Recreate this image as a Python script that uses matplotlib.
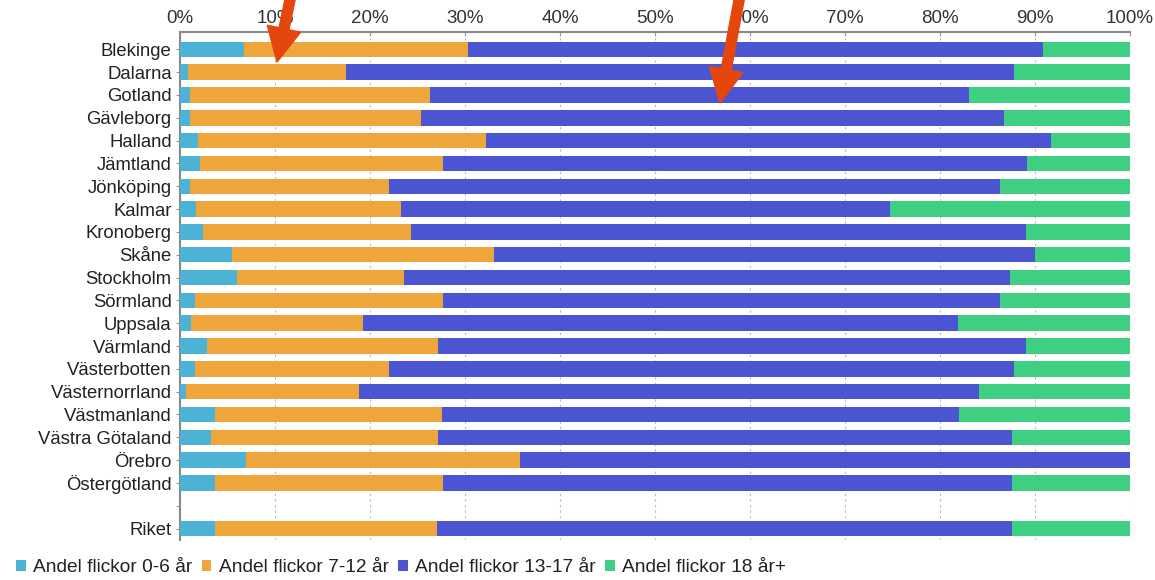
import matplotlib
matplotlib.use("Agg")
import matplotlib.pyplot as plt
from matplotlib.patches import FancyArrow
from matplotlib.transforms import IdentityTransform
import numpy as np

plt.rcParams['font.family'] = ['Liberation Sans', 'DejaVu Sans']

regions = ["Blekinge", "Dalarna", "Gotland", "Gävleborg", "Halland", "Jämtland",
           "Jönköping", "Kalmar", "Kronoberg", "Skåne", "Stockholm", "Sörmland",
           "Uppsala", "Värmland", "Västerbotten", "Västernorrland", "Västmanland",
           "Västra Götaland", "Örebro", "Östergötland", "", "Riket"]

# cumulative boundaries (percent)
cum_0_6 = [6.7, 0.8, 1.0, 1.0, 1.9, 2.1, 1.0, 1.7, 2.4, 5.5, 6.0, 1.6, 1.2, 2.8, 1.6, 0.6, 3.7, 3.3, 6.9, 3.7, 0, 3.7]
cum_7_12 = [30.3, 17.5, 26.3, 25.4, 32.2, 27.7, 22.0, 23.3, 24.3, 33.0, 23.6, 27.7, 19.3, 27.2, 22.0, 18.8, 27.6, 27.2, 35.8, 27.7, 0, 27.0]
cum_13_17 = [90.8, 87.8, 83.1, 86.7, 91.7, 89.2, 86.3, 74.7, 89.1, 90.0, 87.4, 86.3, 81.9, 89.1, 87.8, 84.1, 82.0, 87.6, 100.0, 87.6, 0, 87.6]
cum_total = [100.0] * 20 + [0] + [100.0]

series_labels = ["Andel flickor 0-6 år", "Andel flickor 7-12 år",
                 "Andel flickor 13-17 år", "Andel flickor 18 år+"]
colors = ["#4DB3D6", "#EEA63A", "#4B55D2", "#3ECF82"]
xticks = [0, 10, 20, 30, 40, 50, 60, 70, 80, 90, 100]

c0 = np.array(cum_0_6)
c1 = np.array(cum_7_12)
c2 = np.array(cum_13_17)
c3 = np.array(cum_total)
lefts = [np.zeros_like(c0), c0, c1, c2]
widths = [c0, c1 - c0, c2 - c1, c3 - c2]

fig = plt.figure(figsize=(11.55, 5.8), dpi=100)
ax = fig.add_axes([180/1155, 1 - 540/580, 950/1155, 508/580])

y = np.arange(len(regions))
for lab, col, l, w in zip(series_labels, colors, lefts, widths):
    ax.barh(y, w, left=l, height=0.68, color=col, label=lab, zorder=3,
            edgecolor='none')

ax.set_xlim(0, 100)
ax.set_ylim(21.5, -0.76)
ax.set_yticks(y)
ax.set_yticklabels(regions, fontsize=13.3, color='#222222')
ax.xaxis.tick_top()
ax.set_xticks(xticks)
ax.set_xticklabels([f"{t}%" for t in xticks], fontsize=13.5, color='#333333')
ax.tick_params(axis='x', length=3, direction='in', color='#999999', pad=3.5)
ax.tick_params(axis='y', length=3, color='#999999', pad=3)
ax.grid(axis='x', linestyle=(0, (2, 3)), color='#BBBBBB', linewidth=0.8, zorder=0)
for s in ['right', 'bottom']:
    ax.spines[s].set_visible(False)
for s in ['top', 'left']:
    ax.spines[s].set_color('#888888')
    ax.spines[s].set_linewidth(1.5)

leg = fig.legend(loc='center left', bbox_to_anchor=(16/1155, 1 - 568/580), ncol=4,
                 frameon=False, fontsize=13.8, handlelength=0.5, handleheight=0.5,
                 handletextpad=0.38, columnspacing=0.5, borderpad=0, borderaxespad=0)
for t in leg.get_texts():
    t.set_color('#222222')

# red annotation arrows (figure pixel coordinates)
arrow_col = "#E4460D"
for (x0, y0), (x1, y1) in [((291, 585), (277, 580 - 62)), ((740, 585), (720, 580 - 103))]:
    fig.patches.append(FancyArrow(x0, y0, x1 - x0, y1 - y0, width=10, head_width=34,
                                  head_length=34, length_includes_head=True,
                                  color=arrow_col, transform=IdentityTransform(),
                                  figure=fig, zorder=10))

fig.savefig("out.png", dpi=100)
